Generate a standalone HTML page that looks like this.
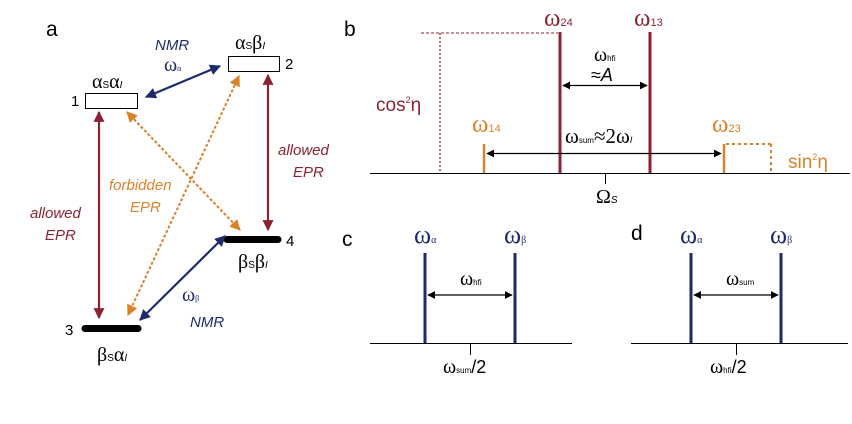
<!DOCTYPE html>
<html><head><meta charset="utf-8"><style>
html,body{margin:0;padding:0;background:#fff;}
svg{display:block;}
text{font-family:"Liberation Sans",sans-serif;}
.s{font-family:"Liberation Serif",serif;}
</style></head><body>
<svg width="852" height="424" viewBox="0 0 852 424" xmlns="http://www.w3.org/2000/svg">
<defs>
<marker id="r" viewBox="0 0 10 10" refX="9" refY="5" markerWidth="5" markerHeight="5" orient="auto-start-reverse"><path d="M0,0L10,5L0,10z" fill="#8b2332"/></marker>
<marker id="b" viewBox="0 0 10 10" refX="9" refY="5" markerWidth="5" markerHeight="5" orient="auto-start-reverse"><path d="M0,0L10,5L0,10z" fill="#1f2a6b"/></marker>
<marker id="o" viewBox="0 0 10 10" refX="9" refY="5" markerWidth="5.5" markerHeight="5.5" orient="auto-start-reverse"><path d="M0,0L10,5L0,10z" fill="#d9822b"/></marker>
<marker id="k" viewBox="0 0 10 10" refX="9" refY="5" markerWidth="6" markerHeight="6" orient="auto-start-reverse"><path d="M0,0L10,5L0,10z" fill="#000"/></marker>
</defs>
<!-- panel a -->
<text x="46" y="36" font-size="21">a</text>
<rect x="85.5" y="93.5" width="52" height="15" fill="#fff" stroke="#000" stroke-width="1"/>
<rect x="228.5" y="56.5" width="51" height="15" fill="#fff" stroke="#000" stroke-width="1"/>
<line x1="227" y1="239.5" x2="278" y2="239.5" stroke="#000" stroke-width="7" stroke-linecap="round"/>
<line x1="85" y1="328.5" x2="138" y2="328.5" stroke="#000" stroke-width="7" stroke-linecap="round"/>
<text x="71" y="106" font-size="15">1</text>
<text x="285" y="69" font-size="15">2</text>
<text x="286" y="246" font-size="15">4</text>
<text x="65" y="335" font-size="15">3</text>
<text x="92" y="88" font-size="20" class="s">α<tspan font-size="10" font-family="Liberation Sans">S</tspan>α<tspan font-size="10" font-style="italic" font-family="Liberation Sans">I</tspan></text>
<text x="235" y="49" font-size="20" class="s">α<tspan font-size="10" font-family="Liberation Sans">S</tspan>β<tspan font-size="10" font-style="italic" font-family="Liberation Sans">I</tspan></text>
<text x="238" y="268" font-size="20" class="s">β<tspan font-size="10" font-family="Liberation Sans">S</tspan>β<tspan font-size="10" font-style="italic" font-family="Liberation Sans">I</tspan></text>
<text x="97" y="361" font-size="20" class="s">β<tspan font-size="10" font-family="Liberation Sans">S</tspan>α<tspan font-size="10" font-style="italic" font-family="Liberation Sans">I</tspan></text>
<line x1="99" y1="112" x2="99" y2="318" stroke="#8b2332" stroke-width="2.2" marker-start="url(#r)" marker-end="url(#r)"/>
<line x1="268" y1="75" x2="268" y2="230" stroke="#8b2332" stroke-width="2.2" marker-start="url(#r)" marker-end="url(#r)"/>
<line x1="146" y1="97" x2="220" y2="66" stroke="#1f2a6b" stroke-width="2.2" marker-start="url(#b)" marker-end="url(#b)"/>
<line x1="140" y1="320" x2="225" y2="236" stroke="#1f2a6b" stroke-width="2.2" marker-start="url(#b)" marker-end="url(#b)"/>
<line x1="127" y1="112" x2="240" y2="230" stroke="#d9822b" stroke-width="2" stroke-dasharray="3,2" marker-start="url(#o)" marker-end="url(#o)"/>
<line x1="239" y1="76" x2="128" y2="315" stroke="#d9822b" stroke-width="2" stroke-dasharray="3,2" marker-start="url(#o)" marker-end="url(#o)"/>
<g font-style="italic" font-size="15">
<text x="155" y="50" fill="#1f2a6b">NMR</text>
<text x="164" y="71" fill="#1f2a6b" class="s" font-style="normal" font-size="20">ω<tspan font-size="8">α</tspan></text>
<text x="278" y="155" fill="#8b2332">allowed</text>
<text x="293" y="177" fill="#8b2332">EPR</text>
<text x="30" y="218" fill="#8b2332">allowed</text>
<text x="45" y="240" fill="#8b2332">EPR</text>
<text x="109" y="190" fill="#d9822b">forbidden</text>
<text x="130" y="212" fill="#d9822b">EPR</text>
<text x="182" y="301" fill="#1f2a6b" class="s" font-style="normal" font-size="20">ω<tspan font-size="8">β</tspan></text>
<text x="190" y="327" fill="#1f2a6b">NMR</text>
</g>
<!-- panel b -->
<text x="344" y="36" font-size="21">b</text>
<line x1="370" y1="173.5" x2="850" y2="173.5" stroke="#000" stroke-width="1"/>
<line x1="605.5" y1="173" x2="605.5" y2="184" stroke="#000" stroke-width="1"/>
<text x="596" y="203" font-size="20" class="s">Ω<tspan font-size="10" font-style="italic" font-family="Liberation Sans">S</tspan></text>
<line x1="440" y1="33" x2="440" y2="173" stroke="#8b2332" stroke-width="1.3" stroke-dasharray="2,2"/>
<line x1="421" y1="33" x2="558" y2="33" stroke="#8b2332" stroke-width="1" stroke-dasharray="3,2"/>
<line x1="560" y1="32" x2="560" y2="173" stroke="#8b2332" stroke-width="3"/>
<line x1="650" y1="32" x2="650" y2="173" stroke="#8b2332" stroke-width="3"/>
<text x="544" y="26" font-size="25" fill="#8b2332" class="s">ω<tspan font-size="11" font-family="Liberation Sans">24</tspan></text>
<text x="634" y="26" font-size="25" fill="#8b2332" class="s">ω<tspan font-size="11" font-family="Liberation Sans">13</tspan></text>
<text x="594" y="61" font-size="20" class="s">ω<tspan font-size="8" font-family="Liberation Sans">hfi</tspan></text>
<text x="591" y="81" font-size="18">≈<tspan font-style="italic">A</tspan></text>
<line x1="563" y1="85.5" x2="647" y2="85.5" stroke="#000" stroke-width="1.3" marker-start="url(#k)" marker-end="url(#k)"/>
<text x="376" y="111" font-size="19" fill="#8b2332">cos<tspan font-size="9" dy="-8">2</tspan><tspan dy="8">η</tspan></text>
<line x1="484" y1="144" x2="484" y2="173" stroke="#d9822b" stroke-width="2.5"/>
<line x1="724" y1="144" x2="724" y2="173" stroke="#d9822b" stroke-width="2.5"/>
<text x="472" y="132" font-size="25" fill="#d9822b" class="s">ω<tspan font-size="11" font-family="Liberation Sans">14</tspan></text>
<text x="712" y="132" font-size="25" fill="#d9822b" class="s">ω<tspan font-size="11" font-family="Liberation Sans">23</tspan></text>
<line x1="726" y1="144" x2="771" y2="144" stroke="#d9822b" stroke-width="2" stroke-dasharray="3,3"/>
<line x1="771" y1="144" x2="771" y2="173" stroke="#d9822b" stroke-width="2" stroke-dasharray="3,3"/>
<text x="788" y="168" font-size="19" fill="#d9822b">sin<tspan font-size="9" dy="-8">2</tspan><tspan dy="8">η</tspan></text>
<line x1="487" y1="153.5" x2="721" y2="153.5" stroke="#000" stroke-width="1.3" marker-start="url(#k)" marker-end="url(#k)"/>
<text x="565" y="143" font-size="21" class="s">ω<tspan font-size="8" font-family="Liberation Sans">sum</tspan>≈2ω<tspan font-size="9" font-style="italic" font-family="Liberation Sans">I</tspan></text>
<!-- panel c -->
<text x="342" y="246" font-size="21">c</text>
<line x1="370" y1="343.5" x2="572" y2="343.5" stroke="#000" stroke-width="1"/>
<line x1="470.5" y1="343" x2="470.5" y2="355" stroke="#000" stroke-width="1"/>
<line x1="425" y1="253" x2="425" y2="343" stroke="#1f2a6b" stroke-width="3"/>
<line x1="515" y1="253" x2="515" y2="343" stroke="#1f2a6b" stroke-width="3"/>
<text x="414" y="243" font-size="26" fill="#1f2a6b" class="s">ω<tspan font-size="10">α</tspan></text>
<text x="504" y="243" font-size="26" fill="#1f2a6b" class="s">ω<tspan font-size="10">β</tspan></text>
<line x1="428" y1="295" x2="512" y2="295" stroke="#000" stroke-width="1.3" marker-start="url(#k)" marker-end="url(#k)"/>
<text x="460" y="285" font-size="20" class="s">ω<tspan font-size="8" font-family="Liberation Sans">hfi</tspan></text>
<text x="443" y="373" font-size="20" class="s">ω<tspan font-size="8" font-family="Liberation Sans">sum</tspan><tspan font-family="Liberation Sans" font-size="18">/2</tspan></text>
<!-- panel d -->
<text x="631" y="240" font-size="21">d</text>
<line x1="631" y1="343.5" x2="848" y2="343.5" stroke="#000" stroke-width="1"/>
<line x1="736.5" y1="343" x2="736.5" y2="355" stroke="#000" stroke-width="1"/>
<line x1="691" y1="253" x2="691" y2="343" stroke="#1f2a6b" stroke-width="3"/>
<line x1="781" y1="253" x2="781" y2="343" stroke="#1f2a6b" stroke-width="3"/>
<text x="680" y="243" font-size="26" fill="#1f2a6b" class="s">ω<tspan font-size="10">α</tspan></text>
<text x="770" y="243" font-size="26" fill="#1f2a6b" class="s">ω<tspan font-size="10">β</tspan></text>
<line x1="694" y1="295" x2="778" y2="295" stroke="#000" stroke-width="1.3" marker-start="url(#k)" marker-end="url(#k)"/>
<text x="726" y="285" font-size="20" class="s">ω<tspan font-size="8" font-family="Liberation Sans">sum</tspan></text>
<text x="710" y="373" font-size="20" class="s">ω<tspan font-size="8" font-family="Liberation Sans">hfi</tspan><tspan font-family="Liberation Sans" font-size="18">/2</tspan></text>
</svg>
</body></html>
